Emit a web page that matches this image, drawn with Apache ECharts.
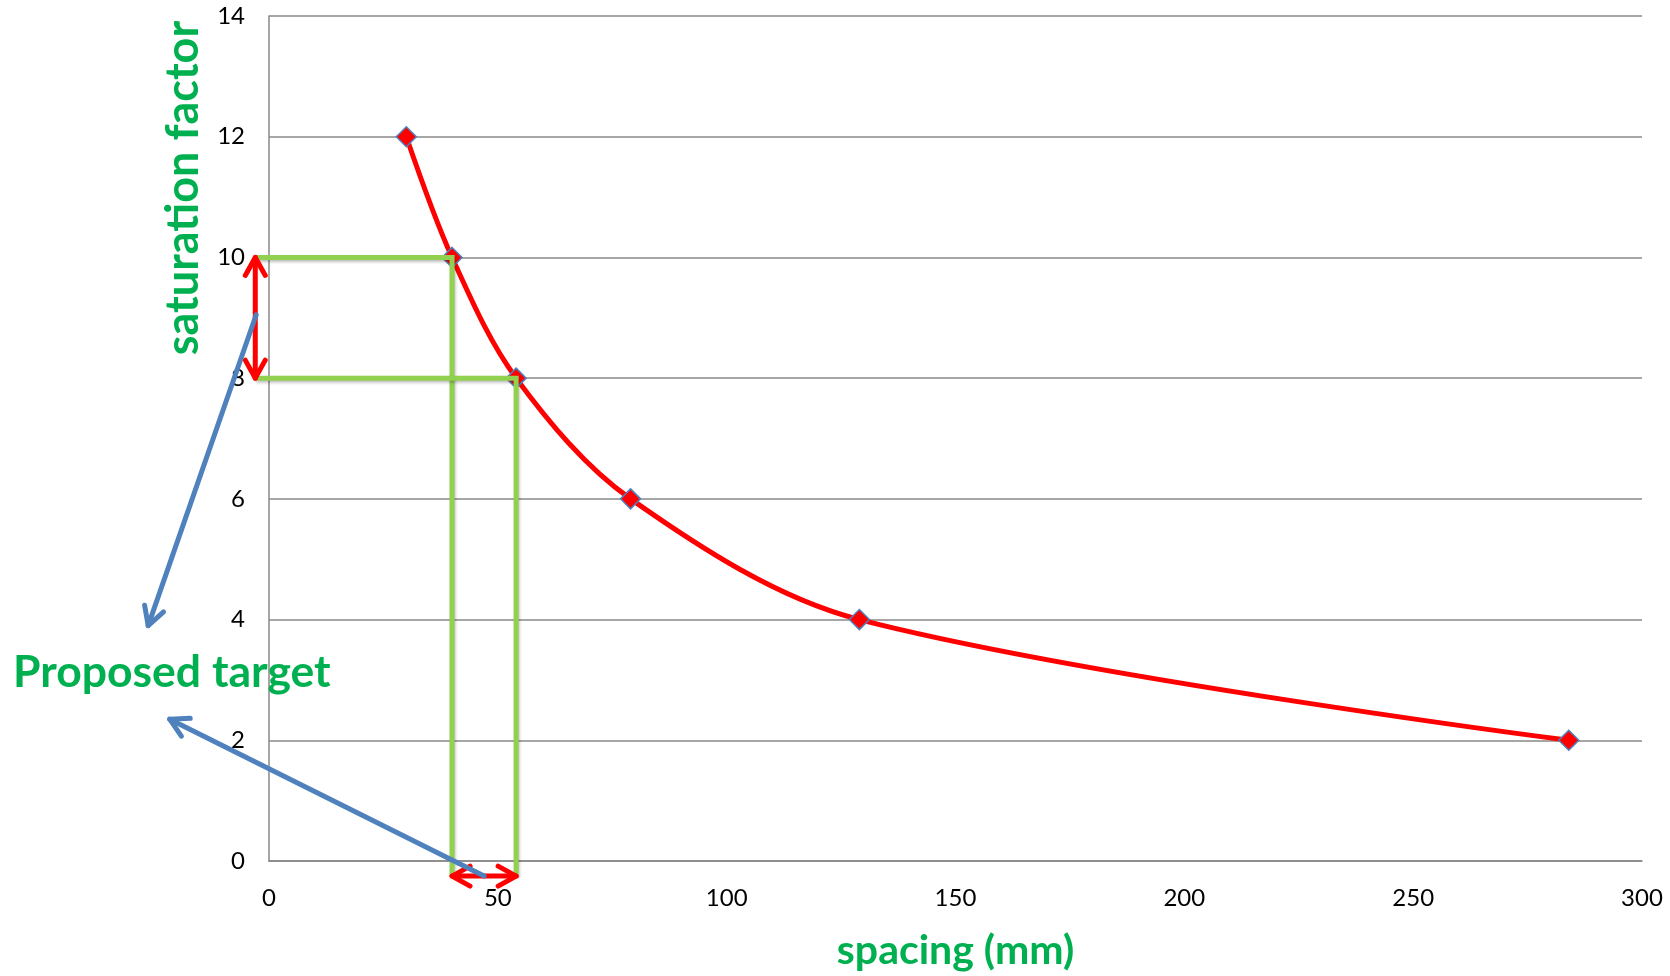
<!DOCTYPE html>
<html>
<head>
<meta charset="utf-8">
<title>saturation factor vs spacing</title>
<script src="https://cdn.jsdelivr.net/npm/echarts@6.0.0/dist/echarts.min.js"></script>
<style>
    html, body { margin: 0; padding: 0; background: #fff; }
    #chart { width: 1670px; height: 976px; }
</style>
</head>
<body>
<div id="chart"></div>
<script>
// measured curve
const spacing = [30, 40, 54, 79, 129, 284];
const saturation = [12, 10, 8, 6, 4, 2];

const xTicks = [0, 50, 100, 150, 200, 250, 300];
const yTicks = [0, 2, 4, 6, 8, 10, 12, 14];

// annotation shapes, in data units (x = spacing, y = saturation)
const guideLines = [
    [-3, 10, 40, 10, 40, -0.25],
    [-3, 8, 54, 8, 54, -0.25]
];
const redArrows = [
    [-3, 10, -3, 8],
    [40, -0.25, 54, -0.25]
];
const blueArrows = [
    [-2.8, 9.05, -26.4, 3.9],
    [47, -0.25, -21.7, 2.35]
];

const GREEN = '#92D050';
const TEXT_GREEN = '#00B050';
const FONT = 'Lato, "Open Sans", sans-serif';

// open chevron head at tip, pointing away from 'from'
function chevron (tip, from, len, half) {
    let dx = tip[0] - from[0], dy = tip[1] - from[1];
    let d = Math.sqrt(dx * dx + dy * dy) || 1;
    dx /= d; dy /= d;
    let bx = tip[0] - dx * len, by = tip[1] - dy * len;
    return [[bx - dy * half, by + dx * half], tip, [bx + dy * half, by - dx * half]];
}

function arrowSeries (data, color, both) {
    return {
        type: 'custom',
        z: 4,
        silent: true,
        data: data,
        renderItem: function (params, api) {
            let a = api.coord([api.value(0), api.value(1)]);
            let b = api.coord([api.value(2), api.value(3)]);
            let style = { stroke: color, lineWidth: 5, fill: null, lineCap: 'round', lineJoin: 'round' };
            let kids = [
                { type: 'line', shape: { x1: a[0], y1: a[1], x2: b[0], y2: b[1] }, style: style },
                { type: 'polyline', shape: { points: chevron(b, a, 18, 10) }, style: style }
            ];
            if (both) {
                kids.push({ type: 'polyline', shape: { points: chevron(a, b, 18, 10) }, style: style });
            }
            return { type: 'group', children: kids };
        }
    };
}

let myChart = echarts.init(document.getElementById('chart'));

let option = {
    animation: false,
    grid: { left: 269, right: 28, top: 16, bottom: 108 },
    xAxis: {
        type: 'value',
        min: xTicks[0],
        max: xTicks[xTicks.length - 1],
        interval: xTicks[1] - xTicks[0],
        name: 'spacing (mm)',
        nameLocation: 'middle',
        nameGap: 69,
        nameTextStyle: { color: TEXT_GREEN, fontFamily: FONT, fontWeight: 'bold', fontSize: 41 },
        axisLine: { show: true, lineStyle: { color: '#888', width: 1.5 } },
        axisTick: { show: false },
        axisLabel: { color: '#000', fontFamily: FONT, fontSize: 24, margin: 25 },
        splitLine: { show: false }
    },
    yAxis: {
        type: 'value',
        min: yTicks[0],
        max: yTicks[yTicks.length - 1],
        interval: yTicks[1] - yTicks[0],
        axisLine: { show: true, lineStyle: { color: '#888', width: 1.5 } },
        axisTick: { show: false },
        axisLabel: { color: '#000', fontFamily: FONT, fontSize: 24, margin: 24 },
        splitLine: { show: true, lineStyle: { color: '#888', width: 1.5 } }
    },
    graphic: [
        {
            type: 'text',
            x: 183,
            y: 188,
            rotation: Math.PI / 2,
            style: {
                text: 'saturation factor',
                fill: TEXT_GREEN,
                font: 'bold 45px ' + FONT,
                align: 'center',
                verticalAlign: 'middle'
            }
        },
        {
            type: 'text',
            x: 13,
            y: 673,
            z: 10,
            style: {
                text: 'Proposed target',
                fill: TEXT_GREEN,
                font: 'bold 44.5px ' + FONT,
                align: 'left',
                verticalAlign: 'middle'
            }
        }
    ],
    series: [
        {
            type: 'line',
            data: spacing.map((x, i) => [x, saturation[i]]),
            smooth: 0.33,
            z: 2,
            symbol: 'diamond',
            symbolSize: 20,
            lineStyle: { color: '#FF0000', width: 5 },
            itemStyle: { color: '#FF0000', borderColor: '#4F81BD', borderWidth: 1.5 }
        },
        {
            type: 'custom',
            z: 3,
            silent: true,
            data: guideLines,
            renderItem: function (params, api) {
                let pts = [];
                for (let i = 0; i < 6; i += 2) {
                    pts.push(api.coord([api.value(i), api.value(i + 1)]));
                }
                return {
                    type: 'polyline',
                    shape: { points: pts },
                    style: {
                        stroke: GREEN, lineWidth: 5, fill: null,
                        shadowBlur: 3, shadowColor: 'rgba(0,0,0,0.25)', shadowOffsetX: 1, shadowOffsetY: 2
                    }
                };
            }
        },
        arrowSeries(redArrows, '#FF0000', true),
        arrowSeries(blueArrows, '#4F81BD', false)
    ]
};

myChart.setOption(option);
</script>
</body>
</html>
